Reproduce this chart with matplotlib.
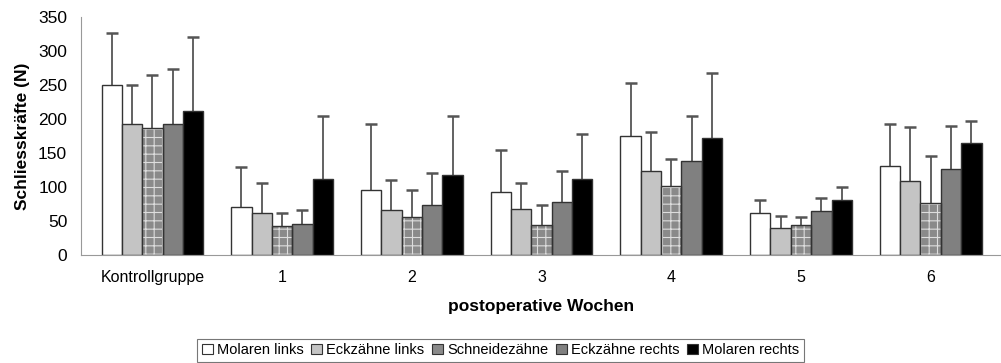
import matplotlib.pyplot as plt
import numpy as np

plt.rcParams['font.family'] = ['Liberation Sans', 'DejaVu Sans']

categories = ["Kontrollgruppe", "1", "2", "3", "4", "5", "6"]
series = ["Molaren links", "Eckzähne links", "Schneidezähne", "Eckzähne rechts", "Molaren rechts"]

means = {
    "Molaren links":   [250, 71, 96, 93, 175, 61, 131],
    "Eckzähne links":  [192, 61, 66, 67, 124, 40, 109],
    "Schneidezähne":   [186, 42, 56, 44, 101, 44, 77],
    "Eckzähne rechts": [192, 46, 74, 78, 138, 64, 126],
    "Molaren rechts":  [212, 112, 118, 112, 172, 80, 165],
}
# upper end of the error bars
upper = {
    "Molaren links":   [326, 130, 192, 155, 253, 81, 192],
    "Eckzähne links":  [250, 105, 110, 106, 181, 57, 188],
    "Schneidezähne":   [265, 62, 95, 74, 141, 56, 146],
    "Eckzähne rechts": [274, 66, 120, 124, 204, 84, 190],
    "Molaren rechts":  [320, 205, 204, 178, 268, 100, 197],
}

colors = ["white", "#c4c4c4", "#8a8a8a", "#808080", "black"]

fig = plt.figure(figsize=(10.01, 3.63), dpi=100)
ax = fig.add_axes([0.081, 0.298, 0.92, 0.655])

x = np.arange(len(categories))
width = 0.157
offset = np.linspace(-2 * width, 2 * width, len(series))

plt.rcParams['hatch.linewidth'] = 0.8

handles = []
for i, name in enumerate(series):
    m = np.array(means[name])
    up = np.array(upper[name])
    xs = x + offset[i]
    # error bars (upper half only)
    ax.vlines(xs, m, up, color="#555555", linewidth=1.3, zorder=1)
    ax.plot(xs, up, linestyle="none", marker="_", markersize=8,
            markeredgewidth=1.8, color="#555555", zorder=1)
    if name == "Schneidezähne":
        ax.bar(xs, m, width, color=colors[i], edgecolor="#dddddd",
               linewidth=0, hatch="++", zorder=2)
        ax.bar(xs, m, width, fill=False, edgecolor="#333333",
               linewidth=1.0, zorder=3)
    else:
        ax.bar(xs, m, width, color=colors[i], edgecolor="#333333",
               linewidth=1.0, zorder=2)
    h = plt.Rectangle((0, 0), 1, 1, facecolor=colors[i], edgecolor="#333333",
                      linewidth=0.8)
    handles.append(h)

ax.set_xlim(-0.55, len(categories) - 0.45)
ax.set_ylim(0, 350)
ax.set_yticks(np.arange(0, 351, 50))
ax.set_xticks(x)
ax.set_xticklabels(categories, fontsize=11.5)
ax.tick_params(axis="y", length=0, labelsize=12.5, pad=10)
ax.tick_params(axis="x", length=0, pad=11)
for s in ["top", "right"]:
    ax.spines[s].set_visible(False)
ax.spines["left"].set_color("#999999")
ax.spines["bottom"].set_color("#999999")

ax.set_ylabel("Schliesskräfte (N)", fontsize=12.5, fontweight="bold", labelpad=6)
ax.set_xlabel("postoperative Wochen", fontsize=12.5, fontweight="bold", labelpad=10)

leg = fig.legend(handles, series, loc="lower center", bbox_to_anchor=(0.5, 0.0), ncol=5,
                 fontsize=10.5, frameon=True, fancybox=False, edgecolor="#555555",
                 handlelength=0.75, handleheight=0.75, handletextpad=0.3,
                 columnspacing=0.5, borderpad=0.3, borderaxespad=0.1)
leg.get_frame().set_linewidth(0.8)

fig.savefig("out.png", dpi=100)
